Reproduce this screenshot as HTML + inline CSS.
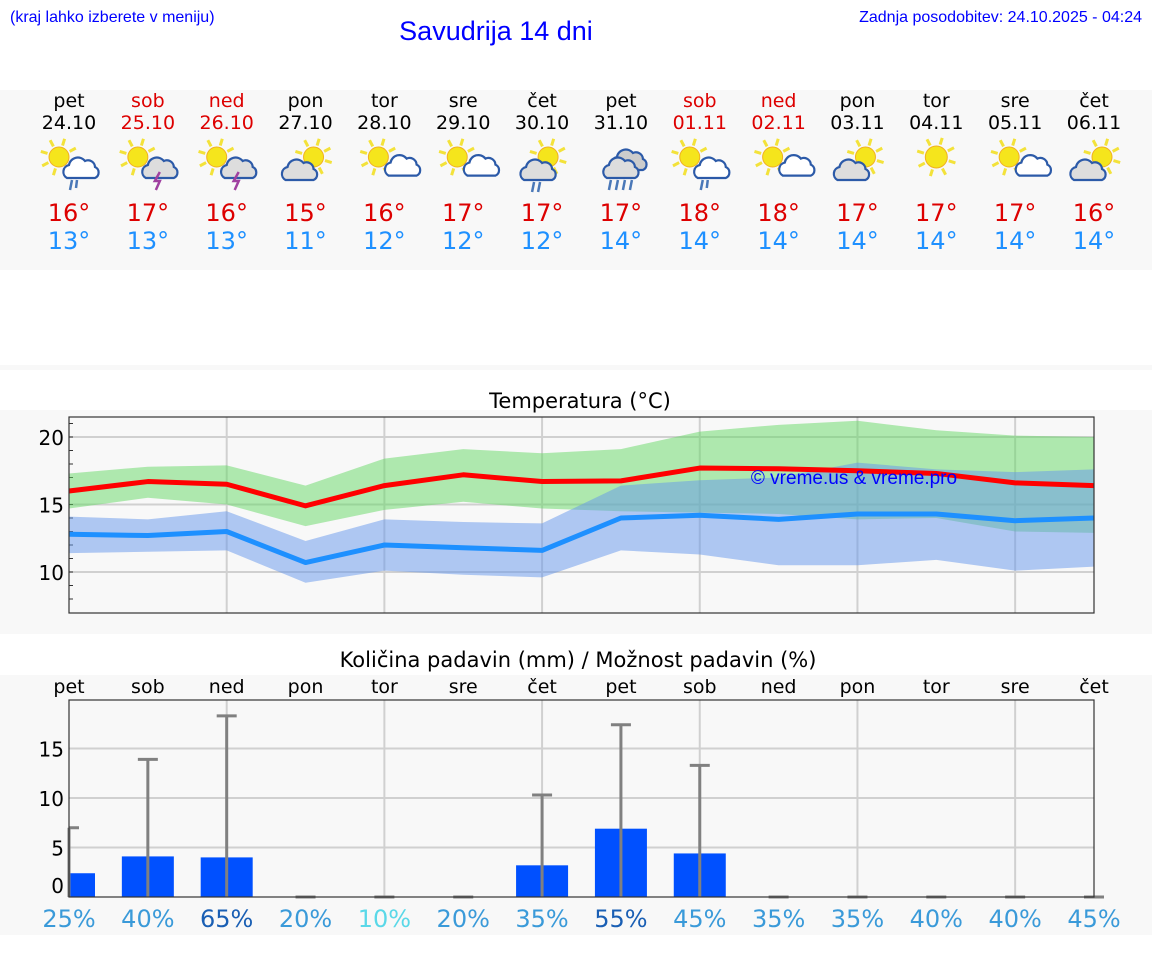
<!DOCTYPE html>
<html><head><meta charset="utf-8"><style>
body{margin:0;background:#fff;width:1152px;height:975px;overflow:hidden;font-family:"Liberation Sans","DejaVu Sans",sans-serif}
svg text{font-family:"DejaVu Sans","Liberation Sans",sans-serif}
</style></head><body>
<svg id="s" width="1152" height="975" xmlns="http://www.w3.org/2000/svg">
<rect x="0" y="90" width="1152" height="180" fill="#f8f8f8"/>
<rect x="0" y="365" width="1152" height="5" fill="#f8f8f8"/>
<rect x="0" y="410" width="1152" height="224" fill="#f8f8f8"/>
<rect x="0" y="675" width="1152" height="260" fill="#f8f8f8"/>
<text x="10" y="22" font-size="16" fill="#0000ff" style="font-family:'Liberation Sans',sans-serif">(kraj lahko izberete v meniju)</text>
<text x="496" y="40" font-size="27" fill="#0000ff" text-anchor="middle" style="font-family:'Liberation Sans',sans-serif">Savudrija 14 dni</text>
<text x="1142" y="22" font-size="16" fill="#0000ff" text-anchor="end" style="font-family:'Liberation Sans',sans-serif">Zadnja posodobitev: 24.10.2025 - 04:24</text>
<text x="580" y="408" font-size="21" text-anchor="middle">Temperatura (°C)</text>
<text x="578" y="667" font-size="21" text-anchor="middle">Količina padavin (mm) / Možnost padavin (%)</text>
<g id="hdr"></g><g id="tc"></g><g id="pc"></g>
</svg>
<script>
const days=["pet","sob","ned","pon","tor","sre","čet","pet","sob","ned","pon","tor","sre","čet"];
const dates=["24.10","25.10","26.10","27.10","28.10","29.10","30.10","31.10","01.11","02.11","03.11","04.11","05.11","06.11"];
const weekend=[0,1,1,0,0,0,0,0,1,1,0,0,0,0];
const icons=[0,1,1,3,4,4,6,7,0,4,3,5,4,3];
const hiTemp=[16,17,16,15,16,17,17,17,18,18,17,17,17,16];
const loTemp=[13,13,13,11,12,12,12,14,14,14,14,14,14,14];
const tMax=[16.0,16.7,16.5,14.9,16.4,17.2,16.7,16.75,17.7,17.65,17.5,17.3,16.6,16.4];
const tMaxHi=[17.3,17.8,17.9,16.4,18.4,19.1,18.8,19.1,20.4,20.9,21.2,20.5,20.1,20.0];
const tMaxLo=[14.7,15.5,15.0,13.4,14.6,15.2,14.7,14.5,14.4,14.3,13.9,14.0,13.0,12.9];
const tMin=[12.8,12.7,13.0,10.7,12.0,11.8,11.6,14.0,14.2,13.9,14.3,14.3,13.8,14.0];
const tMinHi=[14.1,13.9,14.5,12.3,13.9,13.7,13.6,16.4,16.8,17.0,18.1,17.6,17.4,17.6];
const tMinLo=[11.4,11.5,11.6,9.2,10.1,9.8,9.6,11.6,11.3,10.5,10.5,10.9,10.1,10.4];
const tempTicks=[10,15,20];
const rain=[2.4,4.1,4.0,0,0,0,3.2,6.9,4.4,0,0,0,0,0];
const rainMax=[7.0,13.9,18.3,0,0,0,10.3,17.4,13.3,0,0,0,0,0];
const chance=[25,40,65,20,10,20,35,55,45,35,35,40,40,45];
const rainTicks=[0,5,10,15];
const NS="http://www.w3.org/2000/svg";
function mk(p,t,a,txt){const e=document.createElementNS(NS,t);for(const k in a)e.setAttribute(k,a[k]);if(txt!==undefined)e.textContent=txt;p.appendChild(e);return e;}
const X0=69,X1=1094;
const xs=i=>X0+i*(X1-X0)/13;
const H=document.getElementById('hdr');
function sun(g,cx,cy,r){for(let k=0;k<8;k++){const a=k*Math.PI/4+0.3;mk(g,'line',{x1:cx+Math.cos(a)*(r+2),y1:cy+Math.sin(a)*(r+2),x2:cx+Math.cos(a)*(r+9),y2:cy+Math.sin(a)*(r+9),stroke:'#f3e23a','stroke-width':3});}mk(g,'circle',{cx:cx,cy:cy,r:r,fill:'#f5e51c',stroke:'#f0b020','stroke-width':1});}
function cloud(g,cx,cy,s,fill){mk(g,'path',{d:`M${cx-14*s},${cy+8*s} a7,7 0 0 1 2,-13 a9,9 0 0 1 16,-4 a7,7 0 0 1 10,6 a6,6 0 0 1 0,11 z`,fill:fill,stroke:'#2c5aa8','stroke-width':2.2});}
for(let i=0;i<14;i++){const x=xs(i);
const d=mk(H,'text',{x:x,y:107,'font-size':19,'text-anchor':'middle',fill:weekend[i]?'#d00':'#000'},days[i]);

const dt=mk(H,'text',{x:x,y:129,'font-size':19,'text-anchor':'middle',fill:weekend[i]?'#d00':'#000'},dates[i]);

const g=mk(H,'g',{});
const t=icons[i];
if(t===0||t===1){sun(g,x-10,157,10);cloud(g,x+12,170,1,t===0?'#fff':'#ddd');}
if(t===0){mk(g,'path',{d:`M${x+3},180 l-2,10 M${x+8},180 l-1,8`,stroke:'#4a78b8','stroke-width':2.5});}
if(t===1){mk(g,'path',{d:`M${x+12},172 l-5,9 h5 l-4,9`,stroke:'#a040a0','stroke-width':2.5,fill:'none'});}
if(t===3){sun(g,x+8,157,10);cloud(g,x-6,172,1,'#ddd');}
if(t===4){sun(g,x-6,157,10);cloud(g,x+14,170,0.7,'#fff');}
if(t===5){sun(g,x,157,11);}
if(t===6){sun(g,x+6,157,10);cloud(g,x-4,172,1,'#ddd');mk(g,'path',{d:`M${x-8},182 l-2,10 M${x-2},182 l-2,10`,stroke:'#4a78b8','stroke-width':2.5});}
if(t===7){cloud(g,x+8,162,1,'#ccc');cloud(g,x,170,1,'#ddd');mk(g,'path',{d:`M${x-10},180 l-2,10 M${x-3},180 l-2,10 M${x+4},180 l-2,10 M${x+11},180 l-2,10`,stroke:'#4a78b8','stroke-width':2.5});}
const h=mk(H,'text',{x:x,y:221,'font-size':24,'text-anchor':'middle',fill:'#dd0000'},hiTemp[i]+'°');

const l=mk(H,'text',{x:x,y:249,'font-size':24,'text-anchor':'middle',fill:'#1e90ff'},loTemp[i]+'°');

}
const T=document.getElementById('tc');const TY0=417,TY1=613;
const ty=v=>437+(20-v)*13.5;
for(let i=2;i<14;i+=2){const gl=mk(T,'line',{x1:xs(i),x2:xs(i),y1:TY0,y2:TY1,stroke:'#d0d0d0','stroke-width':2});}
for(const v of tempTicks){const gl=mk(T,'line',{x1:X0,x2:X1,y1:ty(v),y2:ty(v),stroke:'#d0d0d0','stroke-width':2});
const tl=mk(T,'text',{x:64,y:ty(v)+8,'font-size':20,'text-anchor':'end'},v);}
for(let v=8;v<=21;v++){const tk=mk(T,'line',{x1:X0,x2:X0+4,y1:ty(v),y2:ty(v),stroke:'#333'});}
function band(hi,lo,fill,name){let d='M'+hi.map((v,i)=>xs(i)+','+ty(v)).join(' L')+' L'+lo.map((v,i)=>xs(i)+','+ty(v)).reverse().join(' L')+'Z';const p=mk(T,'path',{d:d,fill:fill});}
function line(vals,col,name){const p=mk(T,'polyline',{points:vals.map((v,i)=>xs(i)+','+ty(v)).join(' '),fill:'none',stroke:col,'stroke-width':5,'stroke-linejoin':'round'});}
band(tMaxHi,tMaxLo,'rgba(100,215,100,0.5)','max-temp-range');
band(tMinHi,tMinLo,'rgba(100,150,235,0.5)','min-temp-range');
line(tMax,'#ff0000','max-temp-line');line(tMin,'#1e90ff','min-temp-line');
const wm=mk(T,'text',{x:854,y:484,'font-size':19,'text-anchor':'middle',fill:'#0000ff',style:"font-family:'Liberation Sans',sans-serif"},'© vreme.us & vreme.pro');
const tf=mk(T,'rect',{x:X0,y:TY0,width:X1-X0,height:TY1-TY0,fill:'none',stroke:'#333','stroke-width':1.2});
const P=document.getElementById('pc');const PY0=700,PY1=897;
const py=v=>PY1-v*9.9;
for(let i=2;i<14;i+=2){const gl=mk(P,'line',{x1:xs(i),x2:xs(i),y1:PY0,y2:PY1,stroke:'#d0d0d0','stroke-width':2});}
for(const v of rainTicks){if(v>0){const gl=mk(P,'line',{x1:X0,x2:X1,y1:py(v),y2:py(v),stroke:'#d0d0d0','stroke-width':2});}
const tl=mk(P,'text',{x:64,y:(v===0?py(0)-4:py(v)+8),'font-size':20,'text-anchor':'end'},v);}
for(let i=0;i<14;i++){const x=xs(i);
const dn=mk(P,'text',{x:x,y:693,'font-size':19,'text-anchor':'middle'},days[i]);
if(rain[i]>0){const bx=Math.max(X0,x-26),bw=(x+26)-bx;const b=mk(P,'rect',{x:bx,y:py(rain[i]),width:bw,height:PY1-py(rain[i]),fill:'#0050ff'});}
const e=mk(P,'path',{d:`M${x},${PY1} V${py(rainMax[i])} M${Math.max(X0,x-10)},${py(rainMax[i])} H${x+10}`,stroke:'#808080','stroke-width':3,fill:'none'});
const c=chance[i];const col=c>=50?'#1a5fb4':(c<=10?'#5ad8e8':'#3a9ad9');
const ct=mk(P,'text',{x:x,y:927,'font-size':24,'text-anchor':'middle',fill:col},c+'%');}
const pf=mk(P,'rect',{x:X0,y:PY0,width:X1-X0,height:PY1-PY0,fill:'none',stroke:'#333','stroke-width':1.2});
</script>
</body></html>
